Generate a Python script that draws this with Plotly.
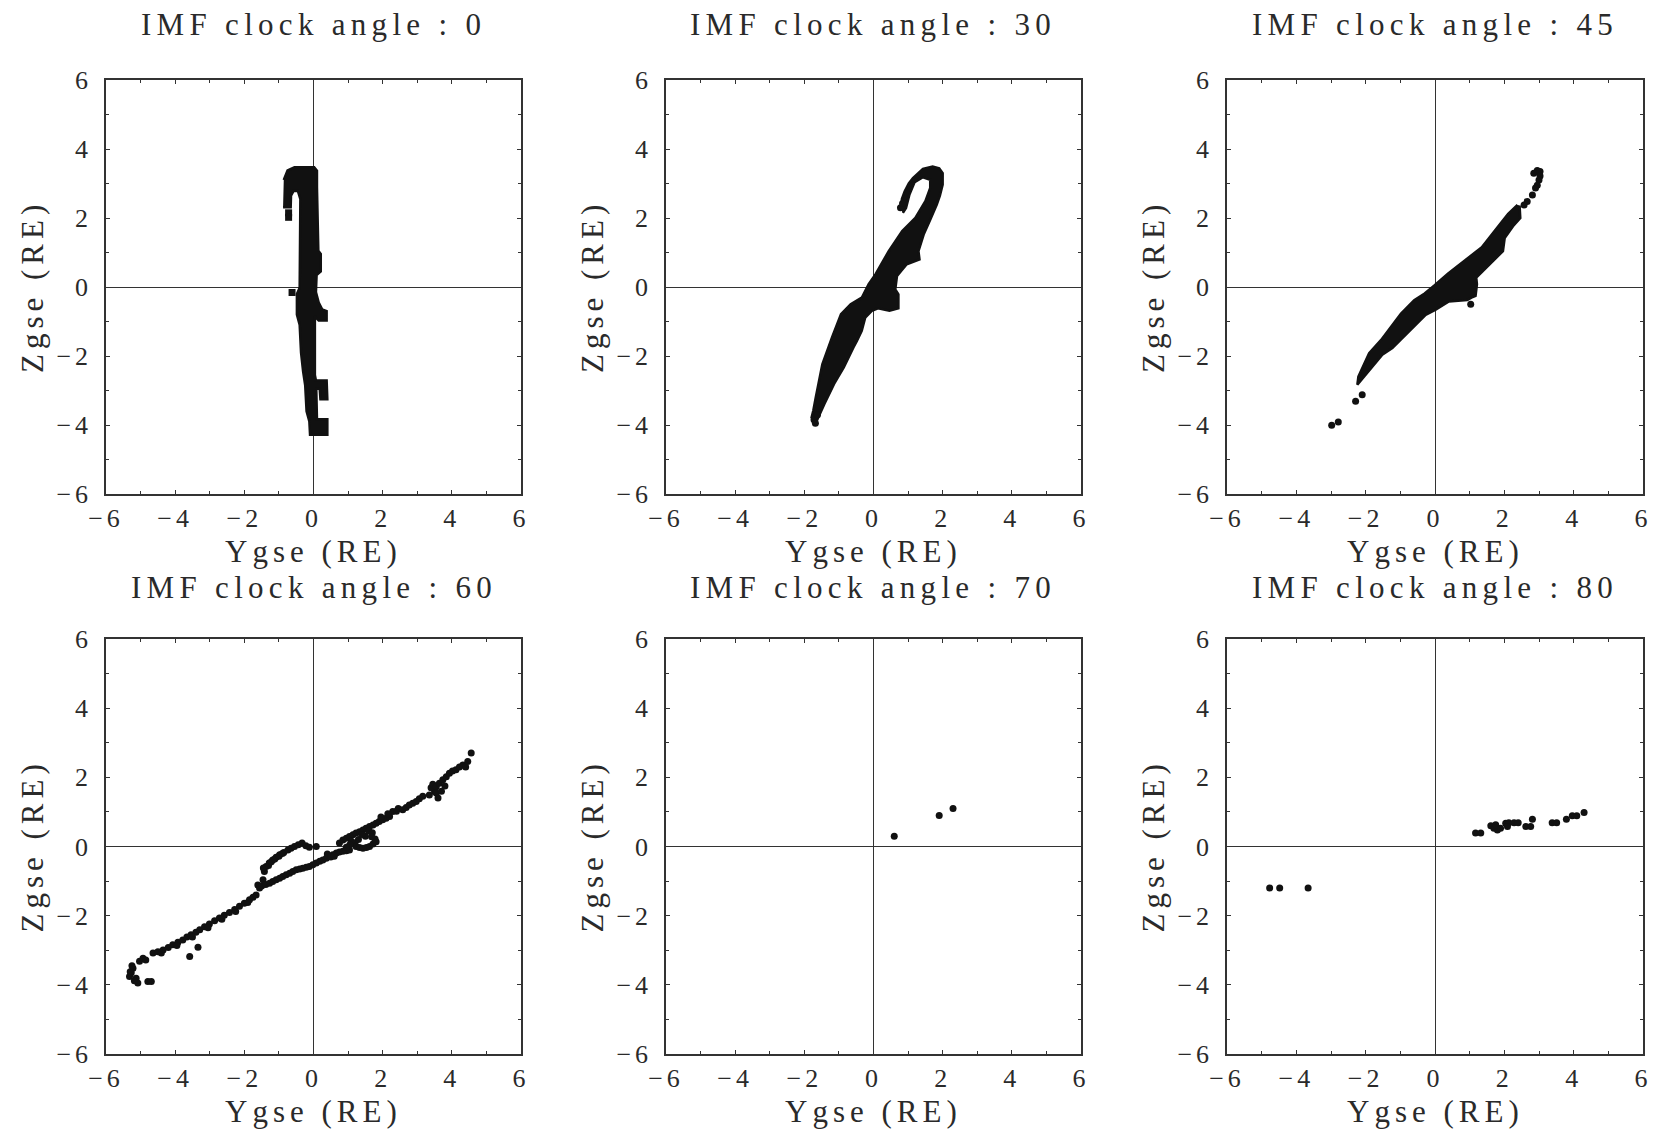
import plotly.graph_objects as go

# ---------------- data (Ygse, Zgse in RE) ----------------
titles = ["IMF clock angle : 0", "IMF clock angle : 30", "IMF clock angle : 45",
          "IMF clock angle : 60", "IMF clock angle : 70", "IMF clock angle : 80"]
tick_vals = [-6, -4, -2, 0, 2, 4, 6]
tick_labels = ["\u22126", "\u22124", "\u22122", "0", "2", "4", "6"]
x_title = "Ygse (RE)"
y_title = "Zgse (RE)"

# clock angle 0 : dense region envelope + sparse points
a0_env_y = [-0.86, -0.75, -0.55, 0.02, 0.10, 0.10, 0.14, 0.21, 0.21, 0.09, 0.07, 0.15, 0.25, 0.38, 0.38,
            0.15, 0.04, 0.04, 0.07, 0.38, 0.40, 0.20, 0.18, 0.08, 0.10, 0.40, 0.40, -0.10, -0.12, -0.20,
            -0.24, -0.30, -0.36, -0.40, -0.48, -0.48, -0.40, -0.38, -0.45, -0.58, -0.65, -0.66, -0.88]
a0_env_z = [3.10, 3.38, 3.47, 3.47, 3.37, 2.90, 1.05, 0.96, 0.45, 0.35, -0.15, -0.45, -0.65, -0.70, -0.97,
            -0.97, -0.85, -2.55, -2.71, -2.71, -3.25, -3.25, -2.95, -2.95, -3.83, -3.83, -4.28, -4.28, -3.90, -3.60,
            -2.85, -2.45, -1.90, -1.10, -0.80, -0.20, -0.02, 2.55, 2.78, 2.78, 2.65, 2.31, 2.31]
a0_pts_y = [-0.72, -0.72, -0.62]
a0_pts_z = [2.15, 2.02, -0.16]

# clock angle 30
a30_env_y = [0.80, 0.82, 0.90, 1.02, 1.14, 1.30, 1.43, 1.71, 1.90, 2.00, 2.00, 1.92, 1.83, 1.64, 1.45, 1.30,
             1.33, 0.96, 0.68, 0.63, 0.72, 0.72, 0.46, 0.13, -0.05, -0.24, -0.34, -0.48, -0.58, -0.86, -1.14,
             -1.42, -1.54, -1.66, -1.79, -1.74, -1.67, -1.48, -1.20, -0.94, -0.66, -0.34, -0.14, 0.06, 0.44,
             0.83, 1.21, 1.50, 1.64, 1.64, 1.43, 1.19, 1.04, 0.94, 0.85]
a30_env_z = [2.24, 2.55, 2.77, 3.00, 3.16, 3.32, 3.42, 3.49, 3.44, 3.30, 2.97, 2.65, 2.39, 1.95, 1.52, 1.04,
             0.80, 0.66, 0.32, -0.07, -0.21, -0.62, -0.69, -0.62, -0.69, -0.89, -1.27, -1.56, -1.75, -2.33, -2.81,
             -3.39, -3.68, -3.92, -3.78, -3.58, -3.20, -2.24, -1.46, -0.79, -0.50, -0.31, 0.08, 0.37, 1.04,
             1.62, 2.00, 2.49, 2.87, 3.11, 3.18, 3.04, 2.68, 2.29, 2.15]
a30_pts_y = [0.78, 0.84, -1.72, -1.62, -1.68]
a30_pts_z = [2.30, 2.42, -3.85, -3.70, -3.95]

# clock angle 45
a45_env_y = [2.44, 2.46, 2.25, 2.01, 1.96, 1.58, 1.19, 1.21, 1.17, 1.05, 0.93, 0.40, 0.02, -0.27, -0.56,
             -0.94, -1.23, -1.52, -1.76, -2.00, -2.14, -2.24, -2.21, -2.07, -1.90, -1.56, -1.27, -0.98, -0.60,
             -0.30, -0.01, 0.38, 0.86, 1.35, 1.73, 2.11, 2.38]
a45_env_z = [2.36, 2.00, 1.76, 1.42, 1.04, 0.65, 0.27, 0.08, -0.26, -0.31, -0.38, -0.42, -0.66, -0.81, -1.10,
             -1.48, -1.77, -1.96, -2.25, -2.54, -2.73, -2.83, -2.60, -2.31, -1.92, -1.54, -1.15, -0.77, -0.38,
             -0.19, 0.05, 0.39, 0.77, 1.15, 1.64, 2.12, 2.38]
a45_pts_y = [2.85, 2.95, 3.03, 3.03, 3.00, 2.95, 2.90, 2.81, 2.66, 2.57, 1.03, -2.10, -2.29, -2.79, -2.98]
a45_pts_z = [3.30, 3.38, 3.35, 3.22, 3.10, 2.95, 2.87, 2.67, 2.48, 2.38, -0.50, -3.12, -3.31, -3.91, -4.01]

# clock angle 60
a60_y = [-5.32, -5.27, -5.22, -5.13, -5.08, -5.18, -5.03, -4.93, -4.79, -4.69, -4.64, -4.50, -4.35, -4.20,
         -4.07, -3.92, -3.78, -3.66, -3.54, -3.58, -3.34, -3.40, -3.29, -3.15, -3.01, -2.86, -2.72, -2.58,
         -2.43, -2.28, -2.14, -2.00, -1.85, -1.75, -1.66, -1.61, -1.56, -1.46,
         -5.30, -5.25, -4.85, -4.40, -3.95, -3.50, -3.05, -2.65, -2.25, -1.90,
         -1.42, -1.37, -1.28, -1.18, -1.08, -0.98, -0.86, -0.74, -0.65, -0.55, -0.44, -0.33,
         -1.45, -1.30, -1.22, -1.12, -1.00, -0.90,
         -1.50, -1.38, -1.27, -1.18, -1.08, -0.98, -0.89, -0.79, -0.69, -0.60, -0.50, -0.40, -0.31, -0.21,
         -0.12, -0.02, 0.08, 0.18, 0.27, 0.37, 0.46, 0.56, 0.66, 0.75, 0.85, 0.95, 1.04,
         -0.12, 0.08, -0.22,
         0.40, 0.50, 0.60, 0.75, 0.85, 0.95, 1.04, 1.14, 1.23, 1.33, 1.43, 1.52, 1.62, 1.72, 1.81, 1.90,
         2.00, 2.10, 2.20, 2.29, 1.20, 1.30, 1.50, 1.10, 1.40, 1.60, 1.70, 1.95, 2.15, 2.45,
         1.23, 1.33, 1.43, 1.53, 1.62, 1.72, 1.81, 1.78, 1.68, 1.05, 0.95,
         2.40, 2.58, 2.68, 2.77, 2.87, 2.97, 3.06, 3.16, 3.35, 3.50, 3.40, 3.45, 3.55, 3.55, 3.64, 3.60,
         3.70, 3.74, 3.84, 3.80, 3.93, 4.02, 4.12, 4.22, 4.32, 4.40, 4.46, 4.56]
a60_z = [-3.76, -3.65, -3.52, -3.81, -3.95, -3.88, -3.32, -3.23, -3.90, -3.90, -3.08, -3.04, -2.99, -2.92,
         -2.84, -2.77, -2.70, -2.62, -2.55, -3.18, -2.91, -2.48, -2.41, -2.32, -2.24, -2.15, -2.07, -1.99,
         -1.91, -1.82, -1.73, -1.64, -1.54, -1.47, -1.40, -1.11, -1.20, -0.96,
         -3.62, -3.45, -3.28, -3.08, -2.86, -2.62, -2.35, -2.10, -1.88, -1.62,
         -0.72, -0.58, -0.48, -0.39, -0.31, -0.24, -0.17, -0.10, -0.05, 0.00, 0.05, 0.10,
         -0.62, -0.55, -0.44, -0.36, -0.28, -0.20,
         -1.14, -1.10, -1.06, -1.01, -0.96, -0.92, -0.87, -0.82, -0.77, -0.72, -0.67, -0.65, -0.63, -0.60,
         -0.58, -0.53, -0.48, -0.43, -0.39, -0.34, -0.29, -0.24, -0.19, -0.16, -0.14, -0.12, -0.10,
         -0.02, 0.00, 0.02,
         -0.22, -0.30, -0.28, 0.10, 0.19, 0.24, 0.29, 0.34, 0.39, 0.43, 0.48, 0.53, 0.58, 0.62, 0.67, 0.72,
         0.77, 0.82, 0.87, 1.01, 0.10, 0.20, 0.30, 0.15, 0.35, 0.45, 0.40, 0.85, 0.95, 1.10,
         0.00, -0.03, -0.05, -0.03, 0.00, 0.07, 0.14, 0.22, 0.28, 0.05, -0.02,
         1.02, 1.06, 1.13, 1.20, 1.25, 1.30, 1.38, 1.45, 1.49, 1.59, 1.70, 1.80, 1.73, 1.55, 1.83, 1.40,
         1.60, 1.93, 2.02, 1.75, 2.12, 2.18, 2.22, 2.30, 2.36, 2.30, 2.46, 2.70]

# clock angle 70
a70_y = [0.60, 1.90, 2.30]
a70_z = [0.30, 0.90, 1.10]

# clock angle 80
a80_y = [-4.77, -4.48, -3.66, 1.17, 1.32, 1.61, 1.70, 1.80, 1.75, 1.89, 2.04, 2.13, 2.28, 2.40, 2.09,
         2.62, 2.76, 2.81, 3.38, 3.51, 3.79, 3.96, 4.09, 4.30]
a80_z = [-1.20, -1.20, -1.20, 0.39, 0.39, 0.60, 0.53, 0.48, 0.63, 0.53, 0.67, 0.69, 0.69, 0.69, 0.58,
         0.58, 0.58, 0.79, 0.69, 0.69, 0.79, 0.89, 0.89, 0.98]

# ---------------- layout geometry ----------------
W, H = 1656, 1134
col_px = [(106, 521), (666, 1081), (1227, 1643)]
row_px = [(80, 494), (639, 1054)]
FONT = "'Liberation Serif', 'DejaVu Serif', serif"
INK = "#111111"
AX = "#333333"
TXT = "#2a2a2a"

fig = go.Figure()

panels = [
    dict(env=(a0_env_y, a0_env_z), pts=(a0_pts_y, a0_pts_z), sym="square"),
    dict(env=(a30_env_y, a30_env_z), pts=(a30_pts_y, a30_pts_z), sym="circle"),
    dict(env=(a45_env_y, a45_env_z), pts=(a45_pts_y, a45_pts_z), sym="circle"),
    dict(env=None, pts=(a60_y, a60_z), sym="circle"),
    dict(env=None, pts=(a70_y, a70_z), sym="circle"),
    dict(env=None, pts=(a80_y, a80_z), sym="circle"),
]

def sp(txt, ls):
    return f'<span style="letter-spacing:{ls}px">{txt}</span>'

tick_text = [sp(t, 4) for t in tick_labels]

annotations = []
for i, p in enumerate(panels):
    r, c = divmod(i, 3)
    n = "" if i == 0 else str(i + 1)
    xa, ya = "x" + n, "y" + n
    x0, x1 = col_px[c]
    y0, y1 = row_px[r]
    axis_common = dict(
        range=[-6, 6], tickvals=tick_vals, ticktext=tick_text, ticks="inside", ticklen=4, tickwidth=1,
        tickcolor=AX, showline=True, linecolor=AX, linewidth=1.5, mirror="allticks", showgrid=False,
        zeroline=True, zerolinecolor=AX, zerolinewidth=1, automargin=False,
        tickfont=dict(family=FONT, size=26, color=TXT),
        minor=dict(dtick=1, tick0=0, ticks="inside", ticklen=3, tickcolor=AX, showgrid=False),
        fixedrange=True,
    )
    fig.layout["xaxis" + n] = dict(axis_common, domain=[x0 / W, x1 / W], anchor=ya, ticklabelstandoff=0)
    fig.layout["yaxis" + n] = dict(axis_common, domain=[1 - y1 / H, 1 - y0 / H], anchor=xa,
                                   ticklabelstandoff=7)

    if p["env"] is not None:
        fig.add_trace(go.Scatter(x=p["env"][0], y=p["env"][1], xaxis=xa, yaxis=ya, mode="lines",
                                 fill="toself", fillcolor=INK, line=dict(color=INK, width=2.5),
                                 hoverinfo="skip", showlegend=False))
    fig.add_trace(go.Scatter(x=p["pts"][0], y=p["pts"][1], xaxis=xa, yaxis=ya, mode="markers",
                             marker=dict(size=7, color=INK, symbol=p["sym"], line=dict(width=0)),
                             showlegend=False))

    cx = (x0 + x1) / 2
    title_y = 25 if r == 0 else 587
    annotations.append(dict(text=sp(titles[i], 5.3), x=cx / W, y=1 - title_y / H, xref="paper", yref="paper",
                            xanchor="center", yanchor="middle", showarrow=False,
                            font=dict(family=FONT, size=31, color=TXT)))
    annotations.append(dict(text=sp(x_title, 5), x=cx / W, y=1 - (y1 + 57) / H, xref="paper", yref="paper",
                            xanchor="center", yanchor="middle", showarrow=False,
                            font=dict(family=FONT, size=31, color=TXT)))
    annotations.append(dict(text=sp(y_title, 5), x=(x0 - 74) / W, y=1 - ((y0 + y1) / 2) / H, xref="paper",
                            yref="paper", xanchor="center", yanchor="middle", showarrow=False, textangle=-90,
                            font=dict(family=FONT, size=31, color=TXT)))

fig.update_layout(width=W, height=H, margin=dict(l=0, r=0, t=0, b=0, autoexpand=False),
                  paper_bgcolor="white", plot_bgcolor="white", annotations=annotations, showlegend=False)

fig.write_html("out.html")
